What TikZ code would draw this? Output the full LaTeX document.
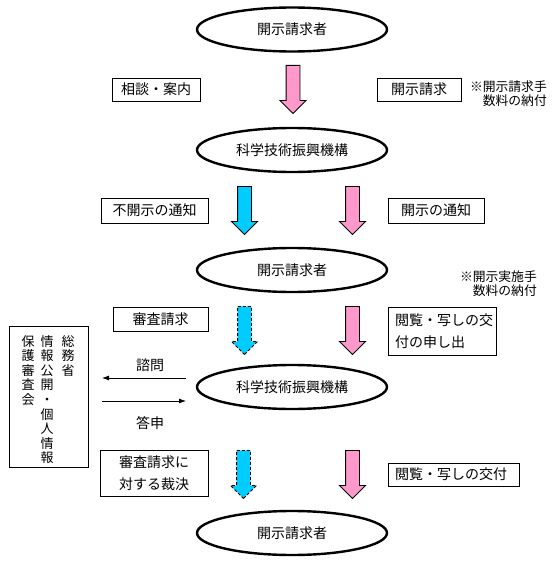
\documentclass[tikz,border=0pt]{standalone}
\usepackage{fontspec}
\setmainfont{Noto Sans CJK JP}
\usetikzlibrary{shapes.geometric,shapes.arrows,arrows.meta}

\definecolor{pinkfill}{HTML}{FF99CC}
\definecolor{bluefill}{HTML}{00CCFF}

\tikzset{
  party/.style={ellipse,draw,line width=2.4pt,minimum width=190pt,
    minimum height=44pt,inner sep=0pt,font=\fontsize{14}{16}\selectfont},
  tag/.style={draw,line width=0.8pt,inner sep=0pt,
    font=\fontsize{14}{22}\selectfont},
  note/.style={align=right,inner sep=0pt,font=\fontsize{12.8}{13.5}\selectfont},
  flow/.style={single arrow,draw,line width=0.9pt,rotate=-90,
    minimum height=48pt,minimum width=0pt,inner sep=6.5pt,
    single arrow head extend=6pt,single arrow head indent=0pt},
  flowpink/.style={flow,fill=pinkfill},
  flowblue/.style={flow,fill=bluefill},
  flowdash/.style={flow,fill=bluefill,dash pattern=on 3pt off 2pt},
  column/.style={align=center,inner sep=0pt,anchor=north,
    font=\fontsize{13}{14.6}\selectfont},
}

\begin{document}
\begin{tikzpicture}[x=1pt,y=-1pt]
\useasboundingbox (0,0) rectangle (551,572);

% Parties
\node[party] (req1) at (292,29.5) {開示請求者};
\node[party] (jst1) at (292,150) {科学技術振興機構};
\node[party] (req2) at (292,270) {開示請求者};
\node[party] (jst2) at (292,387) {科学技術振興機構};
\node[party] (req3) at (292,533) {開示請求者};

% Flow arrows
\node[flowpink,anchor=tail] (a1) at (293,65) {};
\node[flowblue,anchor=tail] (b2) at (244.5,186) {};
\node[flowpink,anchor=tail] (a2) at (352.5,186) {};
\node[flowdash,anchor=tail] (b3) at (244.5,306) {};
\node[flowpink,anchor=tail] (a3) at (352.5,306) {};
\node[flowdash,anchor=tail] (b4) at (243.5,450) {};
\node[flowpink,anchor=tail] (a4) at (352.5,450) {};

% Labels
\node[tag,minimum width=88pt,minimum height=23pt] (consult) at (156,89.5) {相談・案内};
\node[tag,minimum width=84pt,minimum height=23pt] (request) at (419,89.5) {開示請求};
\node[note,anchor=north east] (fee1) at (547,81) {※開示請求手\\数料の納付};

\node[tag,minimum width=107pt,minimum height=25pt] (refuse) at (154.5,210.5) {不開示の通知};
\node[tag,minimum width=96pt,minimum height=25pt] (grant) at (436,210.5) {開示の通知};

\node[note,anchor=north east] (fee2) at (537,271) {※開示実施手\\数料の納付};
\node[tag,minimum width=95pt,minimum height=24pt] (appeal) at (160.5,319) {審査請求};
\node[tag,text width=94pt,inner xsep=7pt,minimum height=48pt,align=left] (viewreq) at (442,331) {閲覧・写しの交\\付の申し出};

\node[tag,text width=94pt,inner xsep=7pt,minimum height=46pt,align=center] (ruling) at (154,473) {審査請求に\\対する裁決};
\node[tag,text width=117pt,inner xsep=7pt,minimum height=23pt,align=left] (view) at (453.5,474.5) {閲覧・写しの交付};

% Review board
\node[draw,line width=0.8pt,minimum width=79pt,minimum height=141pt] (board) at (48.5,396.5) {};
\node[column] (boardA) at (68,335) {総\\務\\省};
\node[column] (boardB) at (47,335) {情\\報\\公\\開\\・\\個\\人\\情\\報};
\node[column] (boardC) at (28,335) {保\\護\\審\\査\\会};

% Consultation
\coordinate (askR) at (186,378);
\coordinate (askL) at (102,378);
\coordinate (ansL) at (102,401);
\coordinate (ansR) at (186,401);
\draw[line width=0.8pt,-{Latex[length=7pt,width=5pt]}] (askR) -- (askL);
\draw[line width=0.8pt,-{Latex[length=7pt,width=5pt]}] (ansL) -- (ansR);
\node[font=\fontsize{14}{16}\selectfont] (ask) at (150,365) {諮問};
\node[font=\fontsize{14}{16}\selectfont] (answer) at (150,423) {答申};

\end{tikzpicture}
\end{document}
